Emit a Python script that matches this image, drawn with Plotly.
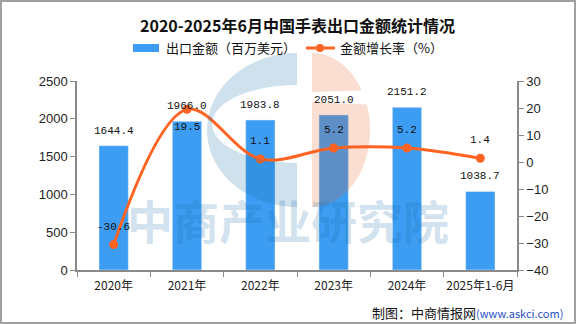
import numpy as np
import plotly.graph_objects as go

categories = ["2020年", "2021年", "2022年", "2023年", "2024年", "2025年1-6月"]
export_value = [1644.4, 1966.0, 1983.8, 2051.0, 2151.2, 1038.7]
growth_rate = [-30.6, 19.5, 1.1, 5.2, 5.2, 1.4]
rate_label_side = [1, -1, 1, 1, 1, 1]  # above (+) or below (-) the point

title_text = "2020-2025年6月中国手表出口金额统计情况"
bar_name = "出口金额（百万美元）"
line_name = "金额增长率（%）"

W_FIG, H_FIG = 576, 324
ML, MR, MT, MB = 77, 59, 81, 54
PW, PH = W_FIG - ML - MR, H_FIG - MT - MB


def px(x):
    return (x - ML) / PW


def py(y):
    return (H_FIG - MB - y) / PH


def path_from(points):
    s = "M " + " L ".join(f"{px(x):.5f},{py(y):.5f}" for x, y in points) + " Z"
    return s


BAR_COLOR = "#3D9DF2"
LINE_COLOR = "#FF6422"
CJK = "Noto Sans CJK SC"
MONO = "Liberation Mono"

fig = go.Figure()
fig.add_trace(go.Bar(
    x=categories, y=export_value, name=bar_name, marker_color=BAR_COLOR,
    width=0.4, yaxis="y", showlegend=False,
))
fig.add_trace(go.Scatter(
    x=categories, y=growth_rate, name=line_name, yaxis="y2", mode="lines+markers",
    line=dict(color=LINE_COLOR, width=3, shape="spline", smoothing=1.0),
    marker=dict(color=LINE_COLOR, size=9), showlegend=False,
))

annotations = []
for c, v in zip(categories, export_value):
    annotations.append(dict(x=c, y=v, xref="x", yref="y", text=f"{v:.1f}", showarrow=False,
                            yshift=15, font=dict(family=MONO, size=11, color="#111")))
for c, v, s in zip(categories, growth_rate, rate_label_side):
    annotations.append(dict(x=c, y=v, xref="x", yref="y2", text=f"{v:.1f}", showarrow=False,
                            yshift=18 * s, font=dict(family=MONO, size=11, color="#111")))

# watermark text
annotations.append(dict(x=px(288), y=py(254), xref="paper", yref="paper", text="<b>中商产业研究院</b>",
                        showarrow=False, font=dict(family=CJK, size=46, color="rgba(15,105,165,0.2)")))

# title
annotations.append(dict(x=0.5, y=py(25), xref="paper", yref="paper", text=f"<b>{title_text}</b>",
                        showarrow=False, font=dict(family=CJK, size=16, color="#111"),
                        xanchor="center", yanchor="middle"))
# custom legend
annotations.append(dict(x=px(164), y=py(48), xref="paper", yref="paper", text=bar_name, showarrow=False,
                        xanchor="left", yanchor="middle", font=dict(family=CJK, size=13, color="#111")))
annotations.append(dict(x=px(338), y=py(48), xref="paper", yref="paper", text=line_name, showarrow=False,
                        xanchor="left", yanchor="middle", font=dict(family=CJK, size=13, color="#111")))
# source
annotations.append(dict(x=px(565), y=py(312), xref="paper", yref="paper",
                        text="制图：中商情报网<span style='color:#1f4fbf;font-size:11px'>(www.askci.com)</span>",
                        showarrow=False, xanchor="right", yanchor="middle",
                        font=dict(family=CJK, size=13, color="#111")))

shapes = []
# logo: blue crescent
t = np.linspace(np.pi / 2, 3 * np.pi / 2, 60)
outer = [(297 + 90 * np.cos(a), 130 - 77 * np.sin(a)) for a in t]
inner = [(297 + 85 * np.cos(a), 124 - 39 * np.sin(a)) for a in t[::-1]]
blue_pts = outer + [(297, 207), (297, 163)] + inner + [(297, 85)]
shapes.append(dict(type="path", xref="paper", yref="paper", path=path_from(blue_pts),
                   fillcolor="rgb(15,105,165)", opacity=0.2, line=dict(width=0), layer="above"))
# logo: orange pieces
t2 = np.linspace(-np.pi / 2, np.pi / 2, 80)
ell = [(312 + 58 * np.cos(a), 130 + 77 * np.sin(a)) for a in t2]
top_pts = [(312, 53)] + [p for p in ell if p[1] <= 92] + [(312, 92)]
bot_pts = [(312, 102)] + [p for p in ell if p[1] >= 102] + [(312, 207)]
for pts in (top_pts, bot_pts):
    shapes.append(dict(type="path", xref="paper", yref="paper", path=path_from(pts),
                       fillcolor="rgb(226,90,27)", opacity=0.2, line=dict(width=0), layer="above"))

# legend swatches
shapes.append(dict(type="rect", xref="paper", yref="paper", x0=px(133), x1=px(159), y0=py(44), y1=py(52),
                   fillcolor=BAR_COLOR, line=dict(width=0)))
shapes.append(dict(type="line", xref="paper", yref="paper", x0=px(306), x1=px(335), y0=py(48), y1=py(48),
                   line=dict(color=LINE_COLOR, width=3)))
shapes.append(dict(type="circle", xref="paper", yref="paper", x0=px(316), x1=px(324), y0=py(44), y1=py(52),
                   fillcolor=LINE_COLOR, line=dict(width=0)))
# border
shapes.append(dict(type="rect", xref="paper", yref="paper", x0=px(1), x1=px(575), y0=py(1), y1=py(323),
                   line=dict(color="#a0a0a0", width=2), fillcolor="rgba(0,0,0,0)"))

AXIS_COLOR = "#8a8a8a"
fig.update_layout(
    width=W_FIG, height=H_FIG,
    margin=dict(l=ML, r=MR, t=MT, b=MB, pad=0),
    paper_bgcolor="white", plot_bgcolor="white",
    showlegend=False,
    bargap=0.6,
    annotations=annotations,
    shapes=shapes,
    xaxis=dict(type="category", tickson="boundaries", ticks="outside", ticklen=5, tickcolor=AXIS_COLOR,
               showline=True, linecolor=AXIS_COLOR, linewidth=1.5, showgrid=False, tickangle=0,
               automargin=False, ticklabelstandoff=4,
               tickfont=dict(family=CJK, size=12, color="#222")),
    yaxis=dict(range=[0, 2500], tickvals=[0, 500, 1000, 1500, 2000, 2500], ticks="outside", ticklen=5,
               tickcolor=AXIS_COLOR, showline=True, linecolor=AXIS_COLOR, linewidth=1.5, showgrid=False,
               zeroline=False, automargin=False,
               tickfont=dict(family="Liberation Sans", size=13, color="#222")),
    yaxis2=dict(range=[-40, 30], tickvals=[-40, -30, -20, -10, 0, 10, 20, 30], overlaying="y", side="right",
                ticks="outside", ticklen=5, tickcolor=AXIS_COLOR, showline=True, linecolor=AXIS_COLOR,
                linewidth=1.5, showgrid=False, zeroline=False, automargin=False,
                tickfont=dict(family="Liberation Sans", size=13, color="#222")),
)

fig.write_html("out.html")
